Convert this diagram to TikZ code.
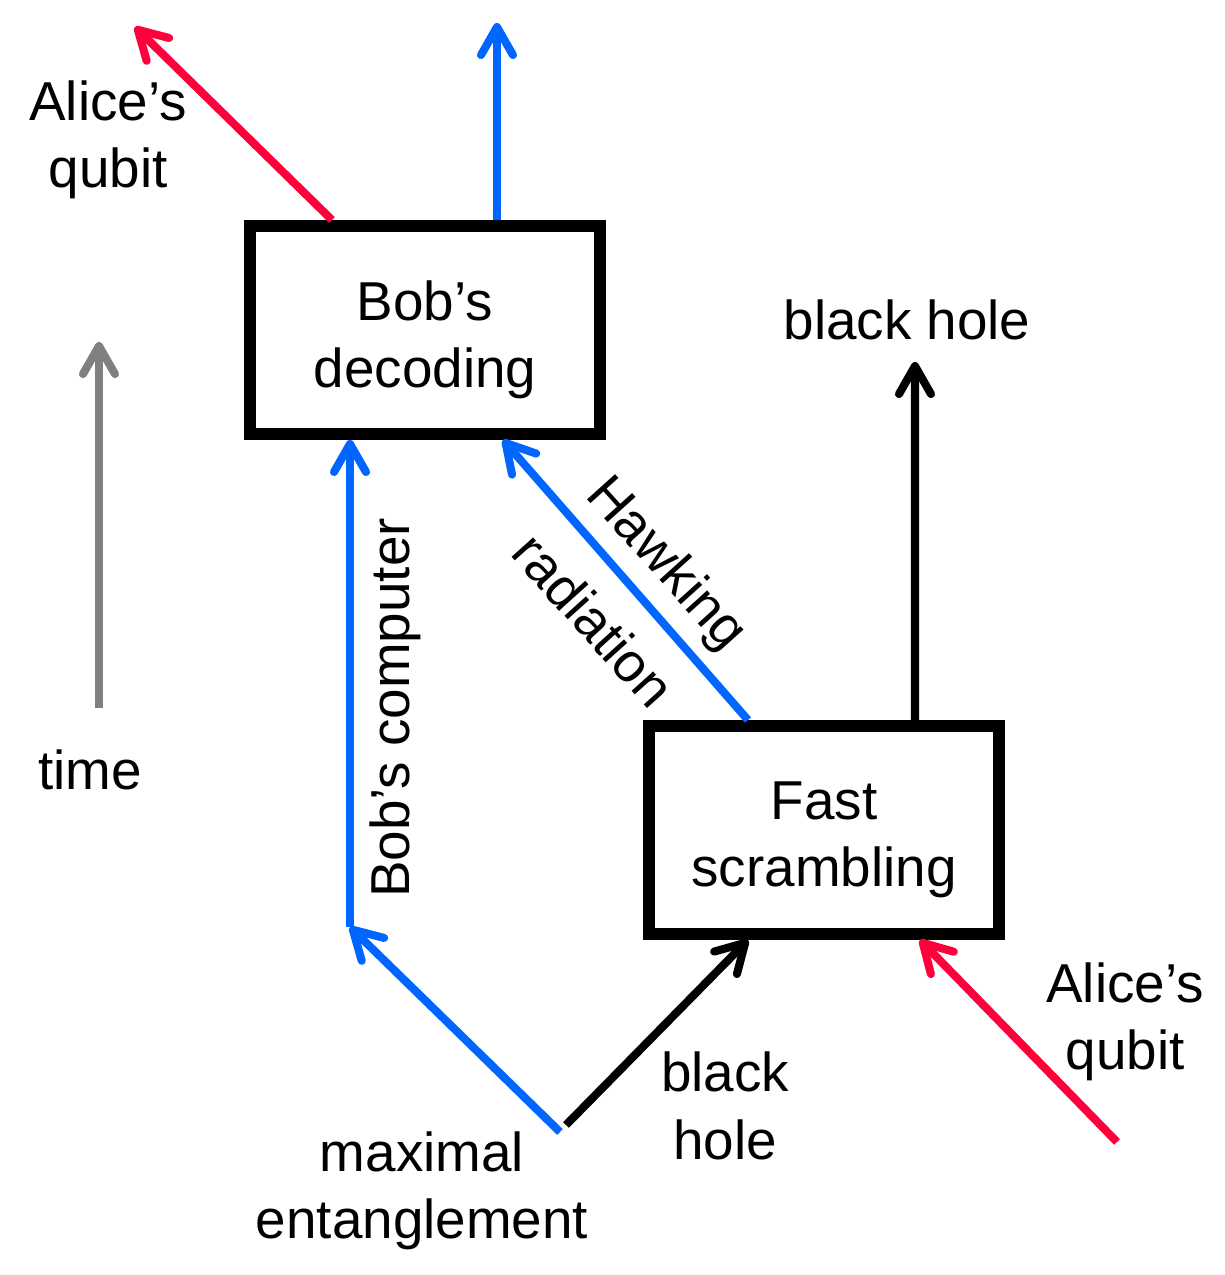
\documentclass[tikz,border=0pt]{standalone}
\usepackage{fontspec}
\setmainfont{Liberation Sans}
\usetikzlibrary{arrows.meta,positioning,calc}
\definecolor{alicered}{RGB}{255,0,60}
\definecolor{bobblue}{RGB}{0,102,255}

\begin{document}
\begin{tikzpicture}[every node/.style={font=\fontsize{15.6pt}{19.2pt}\selectfont,align=center},
  box/.style={draw,line width=3.4pt,minimum width=3.5cm,minimum height=2.08cm},
  boxtext/.style={label={[yshift=-0.1cm]center:#1}},
  wire/.style={line width=2.3pt,-{Straight Barb[round,length=2.8mm,width=3.2mm]}}]
\useasboundingbox (0,0) rectangle (12.25,12.75);
\node[box,boxtext={Bob’s\\decoding}] (dec) at (4.25,9.45) {};
\node[box,boxtext={Fast\\scrambling}] (fast) at (8.24,4.45) {};
\coordinate (aliceout) at (1.35,12.48);
\coordinate (bobout) at (4.97,12.52);
\coordinate (bhout) at (9.15,9.13);
\coordinate (t0) at (0.99,5.67); \coordinate (t1) at (0.99,9.33);
\coordinate (pairb) at (5.60,1.43); \coordinate (pairh) at (5.66,1.50);
\coordinate (bend) at (3.50,3.48);
\coordinate (alicein) at (11.17,1.33);
% arrows
\draw[wire,gray] (t0) -- (t1);
\draw[wire,alicered] ([xshift=-0.93cm]dec.north) -- (aliceout);
\draw[wire,bobblue] ([xshift=0.72cm]dec.north) -- (bobout);
\draw[wire,bobblue] (pairb) -- (bend);
\draw[wire,bobblue] (bend) -- ([xshift=-0.75cm]dec.south);
\draw[wire,bobblue] ([xshift=-0.76cm]fast.north) -- ([xshift=0.78cm]dec.south);
\draw[wire] ([xshift=0.91cm]fast.north) -- (bhout);
\draw[wire] (pairh) -- ([xshift=-0.76cm]fast.south);
\draw[wire,alicered] (alicein) -- ([xshift=0.96cm]fast.south);
% labels
\node (tlab) at (0.90,5.05) {time};
\node (alab1) at (1.08,11.35) {Alice’s\\qubit};
\node (alab2) at (11.25,2.53) {Alice’s\\qubit};
\node (bhlab1) at (9.07,9.55) {black hole};
\node (bhlab2) at (7.25,1.69) {black\\hole};
\node (melab) at (4.22,0.84) {maximal\\entanglement};
\node[rotate=90] (bclab) at (3.95,5.67) {Bob’s computer};
\node[rotate=-48] (hwlab) at (6.65,7.10) {Hawking};
\node[rotate=-48] (rdlab) at (5.94,6.55) {radiation};
\end{tikzpicture}
\end{document}
